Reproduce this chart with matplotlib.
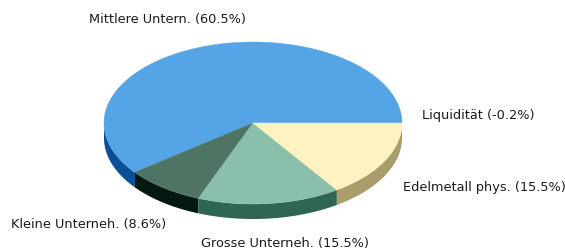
import matplotlib
matplotlib.use("Agg")
import matplotlib.pyplot as plt
import numpy as np
from matplotlib.patches import Polygon

# data
labels = ["Mittlere Untern.", "Kleine Unterneh.", "Grosse Unterneh.", "Edelmetall phys.", "Liquidität"]
values = [60.5, 8.6, 15.5, 15.5, -0.2]
top_colors = ["#55a4e5", "#507464", "#8abfab", "#fff2c1", "#d0d0d0"]
side_colors = ["#0a4f97", "#03190f", "#2f6651", "#a99d6b", "#909090"]
# label offsets (px) from the slice's rim point
label_offsets = [(41, -27), (3, 37), (15, 40), (18, 27), (20, -7)]
label_align = ["right", "right", "center", "left", "left"]

W, H = 565, 252
cx, cy, rx, ry, depth = 253, 123, 149, 81, 15

fig = plt.figure(figsize=(W / 100, H / 100), dpi=100)
ax = fig.add_axes([0, 0, 1, 1])
ax.set_xlim(0, W)
ax.set_ylim(H, 0)
ax.axis("off")

pos = np.clip(values, 0, None)
angles = np.concatenate([[0], np.cumsum(pos) / pos.sum() * 360])


def rim(a):
    a = np.radians(a)
    return cx + rx * np.cos(a), cy - ry * np.sin(a)


# side walls (front half only: 180..360 degrees)
for i in range(len(values)):
    a1, a2 = max(angles[i], 180), min(angles[i + 1], 360)
    if a2 <= a1:
        continue
    t = np.linspace(a1, a2, 80)
    x, y = rim(t)
    pts = np.column_stack([np.concatenate([x, x[::-1]]),
                           np.concatenate([y, y[::-1] + depth])])
    ax.add_patch(Polygon(pts, closed=True, fc=side_colors[i], ec="none"))

# top faces
for i in range(len(values)):
    a1, a2 = angles[i], angles[i + 1]
    if a2 <= a1:
        continue
    t = np.linspace(a1, a2, 200)
    x, y = rim(t)
    pts = np.column_stack([np.concatenate([[cx], x]), np.concatenate([[cy], y])])
    ax.add_patch(Polygon(pts, closed=True, fc=top_colors[i], ec=top_colors[i], lw=0.3))

# labels
for i in range(len(values)):
    mid = (angles[i] + angles[i + 1]) / 2
    x, y = rim(mid)
    dx, dy = label_offsets[i]
    ax.text(x + dx, y + dy, "%s (%.1f%%)" % (labels[i], values[i]),
            ha=label_align[i], va="center", fontsize=9.3, color="#1a1a1a")

fig.savefig("out.png", dpi=100)
